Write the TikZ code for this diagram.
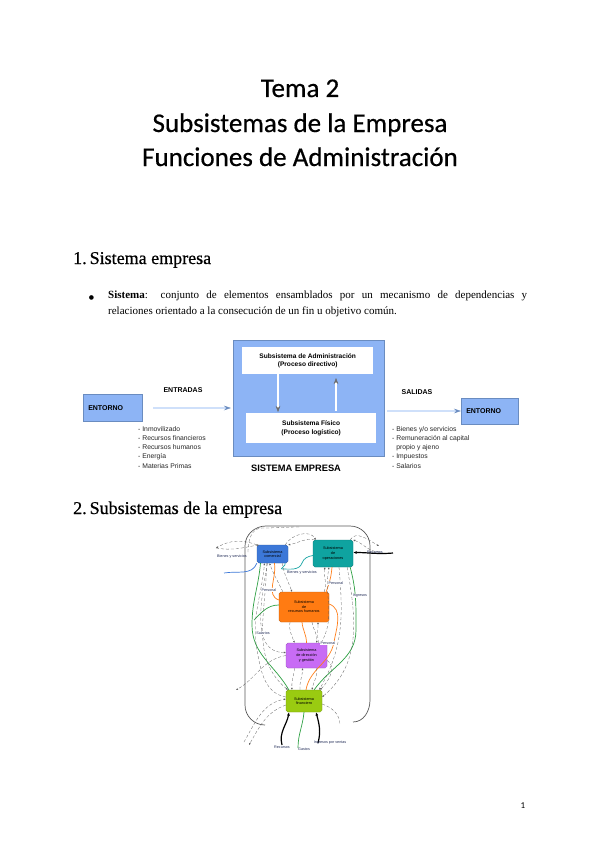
\documentclass[tikz,border=0pt]{standalone}
\usepackage{fontspec}
\setmainfont{Liberation Serif}
\newfontfamily\titlefont[FakeBold=0.5]{Carlito}
\newfontfamily\pnfont{Carlito}
\newfontfamily\headfont[FakeBold=0.6]{Liberation Serif}
\newfontfamily\arialfont{Liberation Sans}
\newfontfamily\dejavu{DejaVu Sans}
\usetikzlibrary{arrows.meta}
\definecolor{bfill}{HTML}{8DB4F5}
\definecolor{bborder}{HTML}{6A8CC0}
\definecolor{hfill}{HTML}{CFE0FA}
\definecolor{ccom}{HTML}{3C78D8}
\definecolor{cope}{HTML}{0FA3A0}
\definecolor{crh}{HTML}{FF7B12}
\definecolor{cdir}{HTML}{C86CF5}
\definecolor{cfin}{HTML}{9ACB11}
\definecolor{cgreen}{HTML}{2EA043}
\definecolor{corange}{HTML}{FF7F1A}
\definecolor{cblue}{HTML}{3C78D8}
\definecolor{cteal}{HTML}{1AA5A5}
\definecolor{lbl}{HTML}{1F2A55}
\tikzset{
  bigbox/.style={draw=bborder, fill=bfill, line width=0.8pt, anchor=north west, inner sep=0},
  whitebox/.style={fill=white, anchor=north west, inner sep=0, align=center,
    font=\arialfont\bfseries\fontsize{6.6}{8.4}\selectfont},
  entbox/.style={draw=bborder, fill=bfill, line width=0.5pt, anchor=north west, inner xsep=5pt,
    align=left, font=\arialfont\bfseries\fontsize{7}{8}\selectfont},
  hollow/.style={draw=bborder, line width=0.5pt, double=hfill, double distance=1.8pt,
    -{Stealth[length=7pt,width=4.5pt]}},
  hollowv/.style={draw=gray!85!black, line width=0.45pt, double=white, double distance=1.6pt,
    -{Stealth[length=6pt,width=4.5pt]}},
  listtxt/.style={anchor=north west, inner sep=0, align=left, font=\arialfont\fontsize{6.8}{9.1}\selectfont, text=black!85},
  sub/.style={rounded corners=1.8pt, draw=#1!75!black, fill=#1, line width=0.3pt,
    font=\arialfont\fontsize{3.8}{4.6}\selectfont, align=center, inner sep=0, text=black},
  small/.style={font=\arialfont\fontsize{3.7}{4.4}\selectfont, text=lbl, inner sep=0.3pt},
  dline/.style={densely dashed, gray!75!black, line width=0.3pt, -{Latex[length=2pt,width=1.8pt]}},
  dnoarr/.style={densely dashed, gray!75!black, line width=0.3pt},
  gline/.style={cgreen, line width=0.7pt},
  oline/.style={corange, line width=0.7pt},
  barrow/.style={black, line width=1.2pt, -{Latex[length=3.5pt,width=3pt]}},
  frame/.style={gray!70!black, line width=0.7pt},
}
\begin{document}
\begin{tikzpicture}[x=1pt,y=-1pt]
\useasboundingbox (0,0) rectangle (600,848);
\fill[white] (0,0) rectangle (600,848);

% Title
\node[anchor=base, inner sep=0, font=\titlefont\fontsize{27}{33}\selectfont] (t1) at (300,97) {Tema 2};
\node[anchor=base, inner sep=0, font=\titlefont\fontsize{27}{33}\selectfont] (t2) at (300,132) {Subsistemas de la Empresa};
\node[anchor=base, inner sep=0, font=\titlefont\fontsize{27}{33}\selectfont] (t3) at (300,166) {Funciones de Administración};

% Section 1
\node[anchor=base west, inner sep=0, font=\headfont\fontsize{18}{20}\selectfont] (h1) at (73,264) {1.\kern3pt Sistema empresa};
\node[anchor=base, inner sep=0, font=\dejavu\fontsize{6}{8}\selectfont] (bul) at (91.5,299) {●};
\node[anchor=north west, inner sep=0, text width=419pt, align=justify,
      font=\fontsize{11}{15.5}\selectfont] (par) at (108,291)
  {\textbf{Sistema}: conjunto de elementos ensamblados por un mecanismo de dependencias y\linebreak
   relaciones orientado a la consecución de un fin u objetivo común.};

% Diagram 1
\node[bigbox, minimum width=151pt, minimum height=116pt] (sys) at (233,340) {};
\node[whitebox, minimum width=131pt, minimum height=27pt] (adm) at (242,347)
  {Subsistema de Administración\\(Proceso directivo)};
\node[whitebox, minimum width=130pt, minimum height=30pt] (fis) at (246,413)
  {Subsistema Físico\\(Proceso logístico)};
\draw[hollowv] (278,374.5 |- adm.south) -- (278,412);
\draw[hollowv] (336,411) -- (336,378);
\node[entbox, minimum width=59pt, minimum height=27pt, text width=49pt] (entL) at (83,394) {ENTORNO};
\node[entbox, minimum width=57pt, minimum height=26pt, text width=47pt] (entR) at (461,398) {ENTORNO};
\node[font=\arialfont\bfseries\fontsize{7}{8}\selectfont, inner sep=0] (entr) at (183,390) {ENTRADAS};
\node[font=\arialfont\bfseries\fontsize{7}{8}\selectfont, inner sep=0] (sal) at (417,392) {SALIDAS};
\coordinate (ein) at (153,408);
\coordinate (ein2) at (231,408);
\draw[hollow] (ein) -- (ein2);
\coordinate (sout) at (387,411);
\draw[hollow] (sout) -- (entR.west |- sout);
\node[listtxt] (inlist) at (138,426.5)
  {- Inmovilizado\\- Recursos financieros\\- Recursos humanos\\- Energía\\- Materias Primas};
\node[listtxt] (outlist) at (392,426.5)
  {- Bienes y/o servicios\\- Remuneración al capital\\\phantom{- }propio y ajeno\\- Impuestos\\- Salarios};
\node[font=\arialfont\bfseries\fontsize{9.3}{10}\selectfont, inner sep=0] (se) at (296,468) {SISTEMA EMPRESA};

% Section 2
\node[anchor=base west, inner sep=0, font=\headfont\fontsize{18}{20}\selectfont] (h2) at (73,514) {2.\kern3pt Subsistemas de la empresa};

% Frame
\draw[frame] (265,725) to[out=180,in=-90] (245,705) -- (245,546) to[out=90,in=180] (266,526)
  -- (350,526) to[out=0,in=90] (370,546) -- (370,700) to[out=-90,in=0] (353,722);

% Subsystem boxes
\node[sub=ccom, minimum width=31pt, minimum height=18pt] (com) at (272.5,554) {Subsistema\\comercial};
\node[sub=cope, minimum width=40pt, minimum height=27pt] (ope) at (333,553.5) {Subsistema\\de\\operaciones};
\node[sub=crh, minimum width=50pt, minimum height=30pt] (rh) at (304,607) {Subsistema\\de\\recursos humanos};
\node[sub=cdir, minimum width=41pt, minimum height=25pt] (dir) at (306.5,655.5) {Subsistema\\de dirección\\y gestión};
\node[sub=cfin, minimum width=36pt, minimum height=22pt] (fin) at (304,701) {Subsistema\\financiero};

% free ends
\coordinate (pL) at (216,548);
\coordinate (pR) at (379,546);
\coordinate (pRb) at (380,552);
\coordinate (pBlue) at (224,573);
\coordinate (pRec) at (393,553);
\coordinate (pLeft) at (236,690);
\coordinate (pBL1) at (249,745);
\coordinate (pBL2) at (244,742);
\coordinate (pIn1) at (282,745);
\coordinate (pIn2) at (318,743);
\coordinate (pG) at (298,748);
\coordinate (pTop) at (300,527);

% top lenses
\draw[dline] (com.north west) to[out=160,in=30] (pL);
\draw[dline] (pL) to[out=-10,in=190] ([xshift=2pt]com.north west);
\draw[dline] ([xshift=-3pt]com.north east) to[out=60,in=120] ([xshift=3pt]ope.north west);
\draw[dline] ([xshift=2pt]ope.north west) to[out=170,in=10] (com.north east);
\draw[dline] ([xshift=-3pt]ope.north east) to[out=60,in=150] (pR);
\draw[dline] (pRb) to[out=180,in=-20] (ope.north east);
\draw[dnoarr] (248,552) to[out=90,in=180] (262,528) to[out=0,in=180] (pTop);

% blue and teal
\draw[cblue, line width=0.7pt] (com.south west) to[out=-110,in=10] (pBlue);
\draw[cteal, line width=0.7pt] ([yshift=-2pt]ope.west) to[out=190,in=70] (302,563)
  to[out=250,in=0] (282,569) to[out=180,in=-60] ([xshift=-3pt]com.south east);
\draw[barrow] (pRec) to[out=185,in=0] ([yshift=1pt]ope.east);

% green
\draw[gline] ([xshift=-12pt]com.south) to[out=-95,in=90] (252,625) to[out=-90,in=120] ([xshift=3pt]fin.north west);
\draw[gline] ([yshift=2pt]rh.west) to[out=180,in=45] (254,620);
\draw[gline] ([xshift=-3pt]ope.south east) to[out=-75,in=90] (356,630) to[out=-90,in=55] ([xshift=-8pt]fin.north east);
\draw[gline] (fin.south) to[out=-95,in=90] (pG);

% orange
\draw[oline] ([xshift=2pt]com.south) to[out=-80,in=160] ([yshift=7pt]rh.west);
\draw[oline] ([xshift=-1pt]ope.south) to[out=-95,in=70] ([xshift=-3pt]rh.north east);
\draw[oline] ([xshift=-2pt]rh.south) to[out=-85,in=90] (dir.north);
\draw[oline] ([yshift=3pt]rh.east) to[out=-20,in=80] (334,642) to[out=-100,in=80] ([xshift=2pt]fin.north);

% dashed connectors
\draw[dline] ([xshift=-6pt]com.south) to[out=-90,in=140] ([xshift=2pt]fin.north west);
\draw[dline] ([xshift=4pt]rh.north west) to[out=115,in=-70] ([xshift=-3pt]com.south);
\draw[dline] ([xshift=-6pt]com.south east) to[out=-80,in=110] ([xshift=-12pt]rh.north);
\draw[dline] ([xshift=-5pt]rh.north east) to[out=70,in=-100] ([xshift=-8pt]ope.south);
\draw[dline] ([xshift=6pt]ope.south) to[out=-85,in=60] ([xshift=-3pt]fin.north east);
\draw[dline] ([xshift=-6pt]ope.south east) to[out=-80,in=40] ([yshift=4pt]fin.east);
\draw[dline] ([xshift=-5pt]com.south) to[out=-100,in=180] ([yshift=3pt]dir.west);
\draw[dline] ([xshift=8pt]rh.south) to[out=-80,in=80] ([xshift=10pt]dir.north);
\draw[dline] ([xshift=12pt]dir.north) to[out=100,in=-90] ([xshift=14pt]rh.south);
\draw[dline] ([xshift=-14pt]rh.south) to[out=-100,in=110] ([xshift=-12pt]dir.north);
\draw[dline] ([xshift=-6pt]dir.north east) to[out=60,in=-100] ([xshift=-4pt]ope.south);
\draw[dline] (dir.west) to[out=190,in=30] (pLeft);
\draw[dline] ([xshift=-12pt]dir.south) to[out=-95,in=95] ([xshift=-12pt]fin.north);
\draw[dline] ([xshift=-4pt]fin.north) to[out=95,in=-90] ([xshift=-4pt]dir.south);
\draw[dline] ([xshift=10pt]dir.south) to[out=-80,in=80] ([xshift=8pt]fin.north);
\draw[dline] ([yshift=-5pt]dir.east) to[out=-30,in=45] ([xshift=-2pt]fin.north east);
\draw[dline] ([yshift=-4pt]fin.west) to[out=200,in=60] (pBL1);
\draw[dline] (pBL2) to[out=60,in=190] ([yshift=2pt]fin.west);
\draw[dline] ([yshift=4pt]fin.west) to[out=170,in=-80] (257,650) to[out=100,in=-95] ([xshift=-8pt]com.south);
\draw[dnoarr] ([yshift=-3pt]fin.east) to[out=-20,in=90] (340,725);

% black arrows bottom
\draw[barrow] (pIn1) to[out=105,in=-100] ([xshift=-15pt]fin.south);
\draw[barrow] (pIn2) to[out=75,in=-75] ([xshift=12pt]fin.south);

% small labels
\node[small] (l1) at (232,557) {Bienes y servicios};
\node[small] (l2) at (302,573) {Bienes y servicios};
\node[small] (l3) at (375,552) {Recursos};
\node[small, fill=white] (l4) at (269,590) {Personal};
\node[small, fill=white] (l5) at (336,583) {Personal};
\node[small, fill=white] (l6) at (360,596) {Ingresos};
\node[small, fill=white] (l7) at (263,633) {Salarios};
\node[small, fill=white] (l8) at (328,643) {Personal};
\node[small] (l9) at (282,747) {Recursos};
\node[small] (l10) at (304,749.5) {Gastos};
\node[small] (l11) at (330,743) {Ingresos por ventas};

% page number
\node[anchor=base, inner sep=0, font=\pnfont\fontsize{9}{10}\selectfont] (pn) at (523,808) {1};
\end{tikzpicture}
\end{document}
